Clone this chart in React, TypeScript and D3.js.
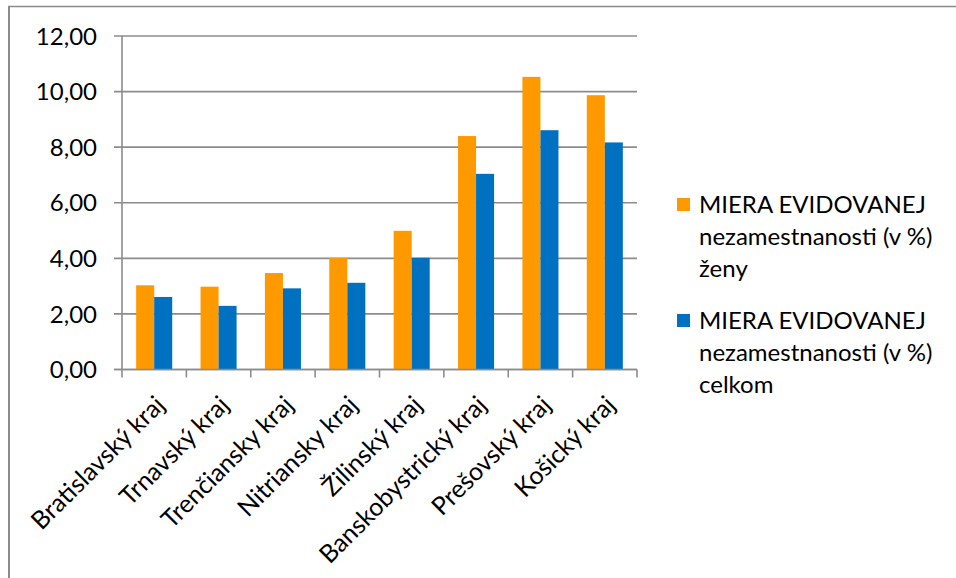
import React from "react";
import * as d3 from "d3";

const categories = [
  "Bratislavský kraj",
  "Trnavský kraj",
  "Trenčiansky kraj",
  "Nitriansky kraj",
  "Žilinský kraj",
  "Banskobystrický kraj",
  "Prešovský kraj",
  "Košický kraj",
];

const zenyValues = [3.03, 2.98, 3.47, 4.02, 4.99, 8.4, 10.53, 9.87];
const celkomValues = [2.61, 2.29, 2.92, 3.12, 4.02, 7.04, 8.61, 8.17];

const seriesNames = [
  ["MIERA EVIDOVANEJ", "nezamestnanosti (v %)", "ženy"],
  ["MIERA EVIDOVANEJ", "nezamestnanosti (v %)", "celkom"],
];
const seriesColors = ["#FF9900", "#0070C0"];
const yTicks = [0, 2, 4, 6, 8, 10, 12];

const W = 956;
const H = 578;
const plot = { left: 122, right: 637, top: 36, bottom: 369.5 };
const FONT = "Lato, 'Open Sans', sans-serif";
const FS = 24;
const FS_X = 25;
const GRID = "#8c8c8c";

export default function App() {
  const x = d3
    .scaleBand<string>()
    .domain(categories)
    .range([plot.left, plot.right])
    .paddingInner(0)
    .paddingOuter(0);
  const y = d3.scaleLinear().domain([0, 12]).range([plot.bottom, plot.top]);
  const bw = x.bandwidth();
  const barW = bw * 0.28;
  const fmt = (v: number) => v.toFixed(2).replace(".", ",");
  const series = [zenyValues, celkomValues];

  const boundaries = d3.range(categories.length + 1).map((i) => plot.left + i * bw);

  return (
    <svg
      width={W}
      height={H}
      style={{ position: "absolute", left: 0, top: 0, background: "#fff" }}
      fontFamily={FONT}
    >
      <rect x={0} y={0} width={W} height={H} fill="#fff" />
      {/* chart frame: top and left edges visible */}
      <line x1={8} x2={W} y1={6.5} y2={6.5} stroke="#8a8a8a" strokeWidth={1.5} />
      <line x1={9} x2={9} y1={6} y2={H} stroke="#8a8a8a" strokeWidth={2} />

      {/* horizontal gridlines and y tick labels */}
      {yTicks.map((t) => (
        <g key={t}>
          <line
            x1={plot.left - 8}
            x2={plot.right}
            y1={y(t)}
            y2={y(t)}
            stroke={GRID}
            strokeWidth={1.6}
          />
          <text
            x={97}
            y={y(t)}
            dy="0.36em"
            textAnchor="end"
            fontSize={FS}
            fill="#000"
          >
            {fmt(t)}
          </text>
        </g>
      ))}

      {/* bars */}
      {categories.map((c, i) => {
        const cx = (x(c) as number) + bw / 2;
        return series.map((vals, s) => (
          <rect
            key={c + s}
            x={cx - barW + s * barW}
            y={y(vals[i])}
            width={barW}
            height={y(0) - y(vals[i])}
            fill={seriesColors[s]}
          />
        ));
      })}

      {/* axes */}
      <line
        x1={plot.left}
        x2={plot.left}
        y1={plot.top}
        y2={plot.bottom}
        stroke={GRID}
        strokeWidth={1.6}
      />
      <line
        x1={plot.left - 8}
        x2={plot.right}
        y1={plot.bottom}
        y2={plot.bottom}
        stroke={GRID}
        strokeWidth={1.6}
      />
      {boundaries.map((bx, i) => (
        <line
          key={i}
          x1={bx}
          x2={bx}
          y1={plot.bottom}
          y2={plot.bottom + 8}
          stroke={GRID}
          strokeWidth={1.6}
        />
      ))}

      {/* rotated category labels */}
      {categories.map((c) => {
        const cx = (x(c) as number) + bw / 2;
        return (
          <text
            key={c}
            transform={`translate(${cx + 12},${plot.bottom + 37}) rotate(-45)`}
            textAnchor="end"
            fontSize={FS_X}
            fill="#000"
          >
            {c}
          </text>
        );
      })}

      {/* legend */}
      {seriesNames.map((lines, s) => {
        const top = s === 0 ? 198 : 314;
        return (
          <g key={s}>
            <rect x={677} y={top} width={13} height={13} fill={seriesColors[s]} />
            {lines.map((ln, k) => (
              <text
                key={k}
                x={699}
                y={top + 15 + k * 32}
                fontSize={FS}
                fill="#000"
              >
                {ln}
              </text>
            ))}
          </g>
        );
      })}
    </svg>
  );
}
